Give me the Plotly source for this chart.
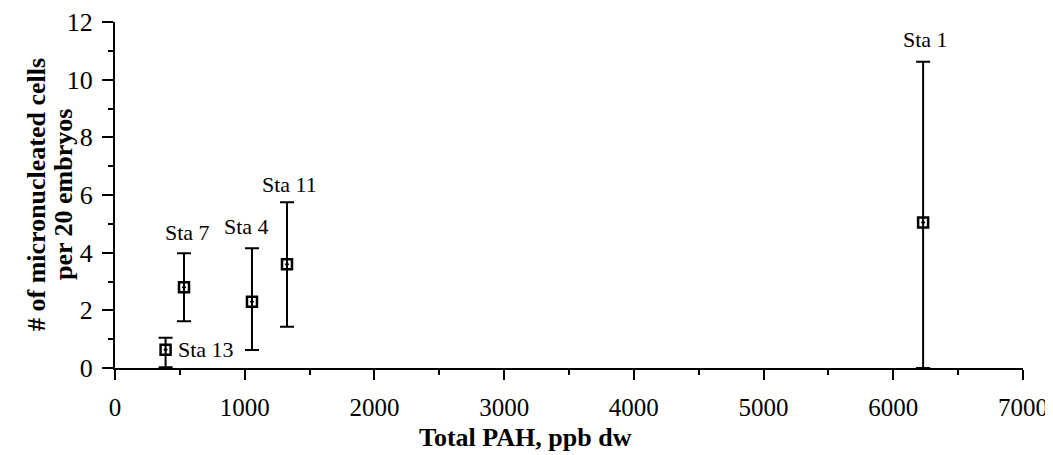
import plotly.graph_objects as go

stations = ["Sta 13", "Sta 7", "Sta 4", "Sta 11", "Sta 1"]
total_pah = [390, 532, 1056, 1326, 6230]
micronucleated = [0.63, 2.8, 2.3, 3.6, 5.05]
err_plus = [0.42, 1.18, 1.85, 2.15, 5.57]
err_minus = [0.6, 1.18, 1.68, 2.17, 5.05]

x_ticks = [0, 1000, 2000, 3000, 4000, 5000, 6000, 7000]
y_ticks = [0, 2, 4, 6, 8, 10, 12]

x_title = "Total PAH, ppb dw"
y_title_lines = ["# of micronucleated cells", "per 20 embryos"]

FONT = "Liberation Serif"

fig = go.Figure()
fig.add_trace(go.Scatter(
    x=total_pah, y=micronucleated, mode="markers",
    marker=dict(symbol="square-open-dot", size=10, color="black",
                line=dict(width=2.5, color="black")),
    error_y=dict(type="data", symmetric=False, array=err_plus, arrayminus=err_minus,
                 color="black", thickness=2, width=7),
    showlegend=False, cliponaxis=False,
))

# station label offsets (px) relative to the top of each error bar (or the marker for Sta 13)
label_style = {
    "Sta 13": dict(xanchor="left", yanchor="middle", xshift=10, yshift=0, at_top=False),
    "Sta 7": dict(xanchor="center", yanchor="bottom", xshift=3, yshift=6, at_top=True),
    "Sta 4": dict(xanchor="center", yanchor="bottom", xshift=-5, yshift=7, at_top=True),
    "Sta 11": dict(xanchor="center", yanchor="bottom", xshift=2, yshift=3, at_top=True),
    "Sta 1": dict(xanchor="center", yanchor="bottom", xshift=2, yshift=8, at_top=True),
}
for s, x, y, ep in zip(stations, total_pah, micronucleated, err_plus):
    p = label_style[s]
    ay = y + ep if p["at_top"] else y
    fig.add_annotation(x=x, y=ay, text=s, showarrow=False,
                       xanchor=p["xanchor"], yanchor=p["yanchor"],
                       xshift=p["xshift"], yshift=p["yshift"],
                       font=dict(family=FONT, size=22, color="black"))

# axis titles
fig.add_annotation(xref="paper", yref="paper", x=0.4526, y=0, yshift=-69,
                   xanchor="center", yanchor="middle", showarrow=False,
                   text="<b>" + x_title + "</b>",
                   font=dict(family=FONT, size=26, color="black"))
for line, xs in zip(y_title_lines, [-79, -52]):
    fig.add_annotation(xref="paper", yref="paper", x=0, y=0.5, xshift=xs,
                       xanchor="center", yanchor="middle", showarrow=False,
                       textangle=-90, text="<b>" + line + "</b>",
                       font=dict(family=FONT, size=26, color="black"))

# the page body adds an 8px offset; compensate so the plot lands where the reference has it
fig.update_layout(
    width=1045, height=447,
    margin=dict(l=107, r=30, t=14, b=87),
    paper_bgcolor="white", plot_bgcolor="white",
    font=dict(family=FONT, size=22, color="black"),
    xaxis=dict(
        range=[0, 7000], tickvals=x_ticks, ticktext=[str(v) for v in x_ticks],
        showgrid=False, zeroline=False, showline=True, linecolor="black", linewidth=2,
        ticks="outside", ticklen=10, tickwidth=2, tickcolor="black",
        minor=dict(dtick=500, ticks="outside", ticklen=5, tickwidth=2, tickcolor="black", showgrid=False),
        tickfont=dict(family=FONT, size=25),
        ticklabelstandoff=6,
        automargin=False,
    ),
    yaxis=dict(
        range=[0, 12], tickvals=y_ticks, ticktext=[str(v) for v in y_ticks],
        showgrid=False, zeroline=False, showline=True, linecolor="black", linewidth=2,
        ticks="outside", ticklen=11, tickwidth=2, tickcolor="black",
        minor=dict(dtick=1, ticks="outside", ticklen=5, tickwidth=2, tickcolor="black", showgrid=False),
        tickfont=dict(family=FONT, size=26),
        ticklabelstandoff=4,
        automargin=False,
    ),
)

fig.write_html("out.html")
